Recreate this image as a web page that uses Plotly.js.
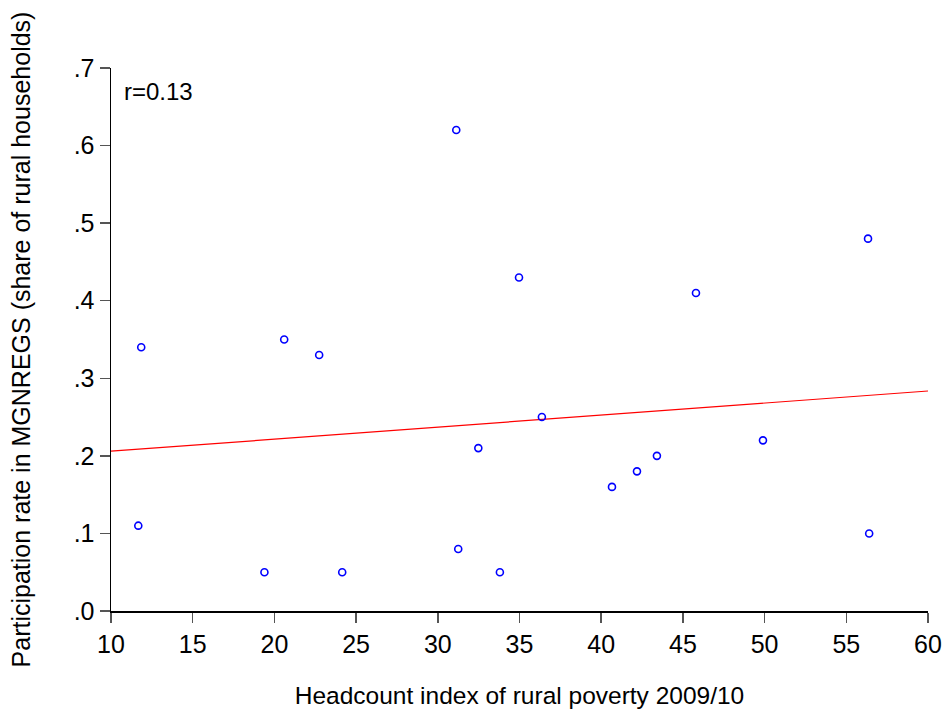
<!DOCTYPE html>
<html>
<head>
<meta charset="utf-8">
<script src="https://cdn.plot.ly/plotly-3.0.1.min.js"></script>
<style>html,body{margin:0;padding:0;background:#fff;}#chart{width:947px;height:719px;}</style>
</head>
<body>
<div id="chart"></div>
<script>
// Headcount index of rural poverty 2009/10 (x) vs MGNREGS participation rate (y)
const povertyIndex = [11.85, 11.67, 19.39, 20.6, 22.74, 24.15, 31.13, 31.25, 32.48, 33.8, 34.97, 36.37, 40.66, 42.19, 43.41, 45.8, 49.9, 56.33, 56.4];
const participation = [0.34, 0.11, 0.05, 0.35, 0.33, 0.05, 0.62, 0.08, 0.21, 0.05, 0.43, 0.25, 0.16, 0.18, 0.20, 0.41, 0.22, 0.48, 0.10];
const xTickVals = [10, 15, 20, 25, 30, 35, 40, 45, 50, 55, 60];
const yTickVals = [0, 0.1, 0.2, 0.3, 0.4, 0.5, 0.6, 0.7];
const yTickText = ['.0', '.1', '.2', '.3', '.4', '.5', '.6', '.7'];
const xRange = [10, 60];
const annotationText = 'r=0.13';

// OLS fit line computed from the data
const n = povertyIndex.length;
const mx = povertyIndex.reduce((a, b) => a + b, 0) / n;
const my = participation.reduce((a, b) => a + b, 0) / n;
let sxy = 0, sxx = 0;
for (let i = 0; i < n; i++) {
  sxy += (povertyIndex[i] - mx) * (participation[i] - my);
  sxx += (povertyIndex[i] - mx) ** 2;
}
const slope = sxy / sxx;
const intercept = my - slope * mx;
const fitX = xRange.slice();
const fitY = fitX.map(x => intercept + slope * x);

const font = 'Liberation Sans, Arial, sans-serif';

const data = [
  {
    x: fitX, y: fitY, type: 'scatter', mode: 'lines',
    line: {color: '#ff0000', width: 1.2}, hoverinfo: 'skip', cliponaxis: false
  },
  {
    x: povertyIndex, y: participation, type: 'scatter', mode: 'markers',
    marker: {symbol: 'circle-open', size: 7, color: '#0000ff', line: {width: 1.6, color: '#0000ff'}},
    cliponaxis: false
  }
];

const layout = {
  width: 947, height: 719,
  paper_bgcolor: '#ffffff', plot_bgcolor: '#ffffff',
  showlegend: false,
  margin: {l: 111, r: 19, t: 68, b: 108, pad: 0},
  font: {family: font, color: '#000000'},
  xaxis: {
    range: xRange, tickvals: xTickVals, ticks: 'outside', ticklen: 10, tickwidth: 1.5, tickcolor: '#555555',
    showline: true, linecolor: '#000000', linewidth: 1.5, showgrid: false, zeroline: false,
    tickfont: {size: 25, family: font, color: '#000000'},
    title: {text: 'Headcount index of rural poverty 2009/10', font: {size: 24.5, family: font, color: '#000000'}, standoff: 30}
  },
  yaxis: {
    range: [0, 0.7], tickvals: yTickVals, ticktext: yTickText, ticks: 'outside', ticklen: 10, tickwidth: 1.5, tickcolor: '#555555',
    showline: true, linecolor: '#000000', linewidth: 1.5, showgrid: false, zeroline: false,
    tickfont: {size: 25, family: font, color: '#000000'},
    title: {text: 'Participation rate in MGNREGS (share of rural households)', font: {size: 25, family: font, color: '#000000'}, standoff: 36}
  },
  annotations: [{
    text: annotationText, xref: 'paper', yref: 'paper', x: 0.013, y: 0.985,
    xanchor: 'left', yanchor: 'top', showarrow: false,
    font: {size: 24, family: font, color: '#000000'}
  }]
};

Plotly.newPlot('chart', data, layout, {displayModeBar: false, staticPlot: true});
</script>
</body>
</html>
